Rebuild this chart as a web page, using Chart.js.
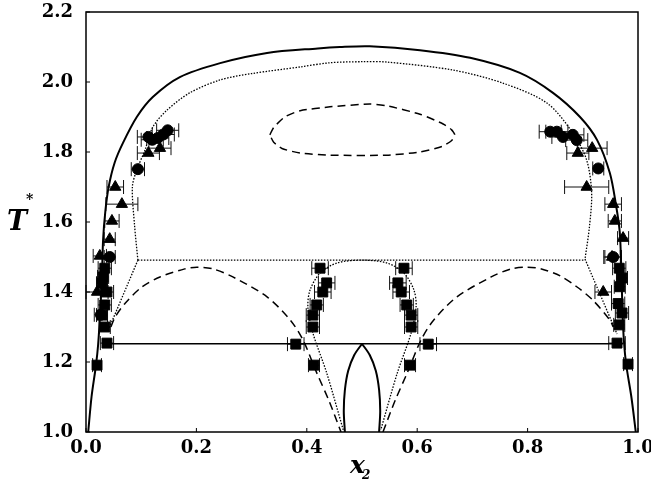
<!DOCTYPE html>
<html>
<head>
<meta charset="utf-8">
<script src="https://cdn.jsdelivr.net/npm/chart.js@4/dist/chart.umd.min.js"></script>
<style>
  html, body { margin: 0; padding: 0; background: #fff; }
  #wrap { width: 651px; height: 491px; }
</style>
</head>
<body>
<div id="wrap"><canvas id="phaseChart"></canvas></div>
<script>
// Phase diagram T* vs x2

// axis ticks
const xTicks = [0.0, 0.2, 0.4, 0.6, 0.8, 1.0];
const yTicks = [1.0, 1.2, 1.4, 1.6, 1.8, 2.0, 2.2];

// outer solid envelope
const outerX = [0.004, 0.010, 0.018, 0.022, 0.026, 0.029, 0.031, 0.035, 0.041, 0.052, 0.067, 0.092, 0.121, 0.170, 0.243, 0.328, 0.420, 0.460, 0.514, 0.605, 0.696, 0.786, 0.846, 0.895, 0.926, 0.949, 0.960, 0.967, 0.970, 0.973, 0.978, 0.988, 0.996];
const outerY = [1.00, 1.10, 1.19, 1.25, 1.35, 1.45, 1.55, 1.63, 1.70, 1.77, 1.826, 1.90, 1.957, 2.014, 2.054, 2.083, 2.096, 2.100, 2.102, 2.091, 2.069, 2.026, 1.969, 1.90, 1.834, 1.74, 1.65, 1.57, 1.45, 1.30, 1.20, 1.10, 1.00];

// solid three-phase line and inner solid arch (two halves meeting at the tip)
const tieX = [0.031, 0.973];
const tieY = [1.252, 1.252];
const archLeftX = [0.469, 0.467, 0.469, 0.475, 0.486, 0.500];
const archLeftY = [1.00, 1.06, 1.12, 1.175, 1.22, 1.252];
const archRightX = [0.500, 0.514, 0.525, 0.531, 0.533, 0.531];
const archRightY = [1.252, 1.22, 1.175, 1.12, 1.06, 1.00];

// dotted curves
const dotLowLeftX = [0.040, 0.094];
const dotLowLeftY = [1.290, 1.491];
const dotUpperX = [0.094, 0.088, 0.084, 0.092, 0.107, 0.121, 0.147, 0.188, 0.243, 0.300, 0.388, 0.442, 0.500, 0.545, 0.665, 0.755, 0.835, 0.882, 0.907, 0.916, 0.912, 0.904];
const dotUpperY = [1.491, 1.590, 1.700, 1.749, 1.806, 1.871, 1.920, 1.969, 2.006, 2.024, 2.043, 2.055, 2.058, 2.057, 2.034, 1.997, 1.940, 1.854, 1.777, 1.683, 1.586, 1.494];
const dotLowRightX = [0.904, 0.962];
const dotLowRightY = [1.494, 1.280];
const dotFlatX = [0.094, 0.904];
const dotFlatY = [1.491, 1.491];
const dotMidX = [0.466, 0.436, 0.411, 0.402, 0.406, 0.424, 0.455, 0.500, 0.545, 0.576, 0.594, 0.598, 0.589, 0.564, 0.534];
const dotMidY = [1.006, 1.169, 1.283, 1.357, 1.406, 1.454, 1.483, 1.491, 1.483, 1.454, 1.406, 1.357, 1.283, 1.169, 1.006];

// dashed curves
const dashLeftX = [0.045, 0.053, 0.071, 0.101, 0.134, 0.179, 0.201, 0.230, 0.266, 0.328, 0.370, 0.393, 0.418, 0.440, 0.462];
const dashLeftY = [1.300, 1.329, 1.368, 1.414, 1.443, 1.466, 1.471, 1.466, 1.443, 1.386, 1.320, 1.263, 1.169, 1.090, 1.000];
const dashRightX = [0.538, 0.560, 0.582, 0.607, 0.630, 0.672, 0.734, 0.770, 0.799, 0.825, 0.859, 0.889, 0.918, 0.949, 0.955];
const dashRightY = [1.000, 1.090, 1.169, 1.263, 1.320, 1.386, 1.443, 1.466, 1.471, 1.466, 1.446, 1.415, 1.377, 1.320, 1.300];
const loopX = [0.333, 0.340, 0.360, 0.388, 0.442, 0.514, 0.545, 0.605, 0.647, 0.662, 0.668, 0.662, 0.645, 0.605, 0.545, 0.442, 0.388, 0.355, 0.340, 0.333];
const loopY = [1.849, 1.870, 1.900, 1.918, 1.929, 1.937, 1.932, 1.908, 1.880, 1.864, 1.849, 1.832, 1.816, 1.800, 1.791, 1.791, 1.797, 1.810, 1.828, 1.849];

// simulation points (with x error)
const squareX = [0.034, 0.031, 0.029, 0.038, 0.034, 0.029, 0.034, 0.038, 0.020,
  0.424, 0.436, 0.429, 0.418, 0.411, 0.411, 0.380, 0.413,
  0.576, 0.565, 0.571, 0.581, 0.589, 0.589, 0.620, 0.587,
  0.966, 0.971, 0.967, 0.964, 0.971, 0.966, 0.962, 0.982];
const squareY = [1.468, 1.443, 1.425, 1.400, 1.363, 1.334, 1.300, 1.254, 1.191,
  1.468, 1.426, 1.400, 1.363, 1.334, 1.300, 1.251, 1.191,
  1.468, 1.426, 1.400, 1.363, 1.334, 1.300, 1.251, 1.191,
  1.468, 1.440, 1.415, 1.367, 1.340, 1.306, 1.254, 1.194];
const squareErr = [0.012, 0.010, 0.010, 0.012, 0.012, 0.010, 0.010, 0.012, 0.008,
  0.015, 0.015, 0.015, 0.012, 0.012, 0.012, 0.015, 0.010,
  0.015, 0.015, 0.015, 0.012, 0.012, 0.012, 0.015, 0.010,
  0.012, 0.010, 0.010, 0.012, 0.012, 0.010, 0.015, 0.008];

const triX = [0.053, 0.065, 0.047, 0.043, 0.113, 0.134, 0.025, 0.020,
  0.917, 0.891, 0.907, 0.955, 0.958, 0.973, 0.937, 0.953];
const triY = [1.700, 1.651, 1.603, 1.551, 1.797, 1.811, 1.503, 1.400,
  1.811, 1.797, 1.700, 1.651, 1.603, 1.554, 1.400, 1.500];
const triErr = [0.015, 0.029, 0.013, 0.010, 0.020, 0.020, 0.012, 0.020,
  0.027, 0.020, 0.040, 0.015, 0.012, 0.010, 0.015, 0.015];

const circX = [0.094, 0.113, 0.120, 0.130, 0.140, 0.148, 0.043, 0.027,
  0.841, 0.853, 0.864, 0.882, 0.889, 0.928, 0.955];
const circY = [1.751, 1.843, 1.835, 1.840, 1.850, 1.862, 1.500, 1.335,
  1.858, 1.858, 1.843, 1.849, 1.834, 1.753, 1.500];
const circErr = [0.012, 0.020, 0.020, 0.020, 0.020, 0.020, 0.010, 0.012,
  0.020, 0.020, 0.020, 0.020, 0.020, 0.010, 0.015];

function toPoints(xs, ys) {
  return xs.map((x, i) => ({ x: x, y: ys[i] }));
}

function curve(xs, ys, width, dash, tension) {
  return {
    data: toPoints(xs, ys),
    showLine: true,
    borderColor: '#000',
    borderWidth: width,
    borderDash: dash,
    pointRadius: 0,
    tension: tension,
    fill: false
  };
}

function markers(xs, ys, errs, style, radius) {
  return {
    data: toPoints(xs, ys),
    xErr: errs,
    pointStyle: style,
    pointRadius: radius,
    backgroundColor: '#000',
    borderColor: '#000',
    borderWidth: 1
  };
}

const tickFont = { family: '"DejaVu Serif"', size: 18, weight: 'bold' };
const DOT = [1.5, 1.5];
const DASH = [8, 5];

// horizontal error bars with end caps
const errorBars = {
  id: 'errorBars',
  beforeDatasetsDraw(chart) {
    const ctx = chart.ctx;
    const xs = chart.scales.x, ys = chart.scales.y;
    ctx.save();
    ctx.strokeStyle = '#111';
    ctx.lineWidth = 1;
    chart.data.datasets.forEach(ds => {
      if (!ds.xErr) return;
      ds.data.forEach((p, i) => {
        const e = ds.xErr[i];
        const py = ys.getPixelForValue(p.y);
        const x0 = xs.getPixelForValue(p.x - e);
        const x1 = xs.getPixelForValue(p.x + e);
        ctx.beginPath();
        ctx.moveTo(x0, py); ctx.lineTo(x1, py);
        ctx.moveTo(x0, py - 7); ctx.lineTo(x0, py + 7);
        ctx.moveTo(x1, py - 7); ctx.lineTo(x1, py + 7);
        ctx.stroke();
      });
    });
    ctx.restore();
  }
};

// frame, inner tick marks and axis titles
const frame = {
  id: 'frame',
  afterDraw(chart) {
    const ctx = chart.ctx;
    const a = chart.chartArea;
    const xs = chart.scales.x, ys = chart.scales.y;
    ctx.save();
    ctx.strokeStyle = '#000';
    ctx.lineWidth = 1.5;
    ctx.strokeRect(a.left, a.top, a.right - a.left, a.bottom - a.top);
    ctx.lineWidth = 1;
    ctx.beginPath();
    xTicks.forEach(v => {
      const px = xs.getPixelForValue(v);
      ctx.moveTo(px, a.bottom); ctx.lineTo(px, a.bottom - 4);
    });
    yTicks.forEach(v => {
      const py = ys.getPixelForValue(v);
      ctx.moveTo(a.left, py); ctx.lineTo(a.left + 4, py);
    });
    ctx.stroke();

    ctx.fillStyle = '#000';
    ctx.textBaseline = 'alphabetic';
    ctx.textAlign = 'left';
    ctx.font = 'italic bold 27px "DejaVu Serif"';
    ctx.fillText('T', 7, 230);
    ctx.font = 'bold 14px "DejaVu Serif"';
    ctx.fillText('*', 26, 204);
    ctx.font = 'italic bold 25px "DejaVu Serif"';
    ctx.fillText('x', 350, 473);
    ctx.font = 'italic bold 12px "DejaVu Serif"';
    ctx.fillText('2', 362, 479);
    ctx.restore();
  }
};

new Chart(document.getElementById('phaseChart'), {
  type: 'scatter',
  data: {
    datasets: [
      curve(outerX, outerY, 2, [], 0.3),
      curve(tieX, tieY, 1.5, [], 0),
      curve(archLeftX, archLeftY, 2, [], 0.3),
      curve(archRightX, archRightY, 2, [], 0.3),
      curve(dotLowLeftX, dotLowLeftY, 1.3, DOT, 0),
      curve(dotUpperX, dotUpperY, 1.3, DOT, 0.3),
      curve(dotLowRightX, dotLowRightY, 1.3, DOT, 0),
      curve(dotFlatX, dotFlatY, 1.3, DOT, 0),
      curve(dotMidX, dotMidY, 1.3, DOT, 0.3),
      curve(dashLeftX, dashLeftY, 1.5, DASH, 0.3),
      curve(dashRightX, dashRightY, 1.5, DASH, 0.3),
      curve(loopX, loopY, 1.5, DASH, 0.2),
      markers(squareX, squareY, squareErr, 'rect', 7),
      markers(triX, triY, triErr, 'triangle', 6.5),
      markers(circX, circY, circErr, 'circle', 5.5)
    ]
  },
  options: {
    responsive: true,
    maintainAspectRatio: false,
    animation: false,
    layout: { padding: { top: 12, right: 13, bottom: 0, left: 0 } },
    plugins: {
      legend: { display: false },
      tooltip: { enabled: false }
    },
    scales: {
      x: {
        type: 'linear',
        min: 0, max: 1,
        afterBuildTicks: s => { s.ticks = xTicks.map(v => ({ value: v })); },
        afterFit: s => { s.height = 59; s.paddingLeft = 0; s.paddingRight = 0; },
        ticks: { font: tickFont, color: '#000', padding: 6, maxRotation: 0, callback: v => v.toFixed(1) },
        grid: { display: false, drawTicks: false },
        border: { display: false }
      },
      y: {
        type: 'linear',
        min: 1.0, max: 2.2,
        afterBuildTicks: s => { s.ticks = yTicks.map(v => ({ value: v })); },
        afterFit: s => { s.width = 86; s.paddingTop = 0; s.paddingBottom = 0; },
        ticks: { font: tickFont, color: '#000', padding: 13, callback: v => v.toFixed(1) },
        grid: { display: false, drawTicks: false },
        border: { display: false }
      }
    }
  },
  plugins: [errorBars, frame]
});
</script>
</body>
</html>
